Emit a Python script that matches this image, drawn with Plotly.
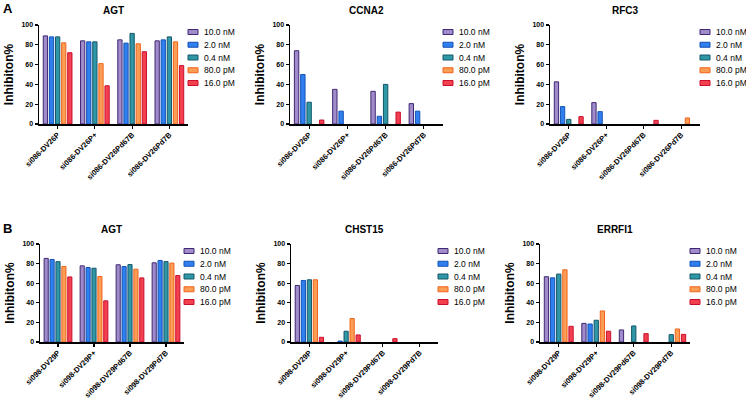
import plotly.graph_objects as go

# ---------------- data ----------------
series_names = ["10.0 nM", "2.0 nM", "0.4 nM", "80.0 pM", "16.0 pM"]
fill_colors = ["#a08bcb", "#2f7fef", "#2f97a5", "#fb9d55", "#f2404f"]
line_colors = ["#3f2772", "#1553b6", "#16566a", "#f0641c", "#c8102e"]

cats_A = ["si086-DV26P", "si086-DV26P+", "si086-DV26Pd67B", "si086-DV26Pd7B"]
cats_B = ["si098-DV29P", "si098-DV29P+", "si098-DV29Pd67B", "si098-DV29Pd7B"]

# values per series (rows = series, columns = categories); None = no bar
agt_A = [
    [89, 84, 85, 84],
    [88, 83, 81.7, 85],
    [88, 83, 91.5, 88],
    [82, 61, 81, 83],
    [72, 38.6, 73, 59],
]
ccna2_A = [
    [74, 35, 33, 20.6],
    [50, 13, 7.8, 13],
    [22, None, 40, None],
    [None, None, None, None],
    [4, None, 12, None],
]
rfc3_A = [
    [42.6, 21.6, None, None],
    [17.6, 12.5, None, None],
    [4.7, None, None, None],
    [None, None, None, 6.1],
    [7.4, None, 3.7, None],
]
agt_B = [
    [85.3, 77.7, 78.8, 80.8],
    [84.2, 76, 77, 83.2],
    [82, 75.3, 79, 82],
    [77, 66.8, 74.3, 80.5],
    [66.4, 42, 65.4, 67.8],
]
chst15_B = [
    [57.7, None, None, None],
    [62.8, 1, None, None],
    [63.5, 11, None, None],
    [63.5, 24, None, None],
    [4.8, 7.2, 3.4, None],
]
errfi1_B = [
    [66.6, 19, 12.3, None],
    [65.5, 18.4, None, None],
    [69.3, 22.2, 16.4, 7.5],
    [73.7, 31.7, None, 13.3],
    [16, 11, 8.5, 7.8],
]

y_ticks = [0, 20, 40, 60, 80, 100]
y_title_A = "Inhibiton%"
y_title_B = "Inhibiton%"

# ---------------- layout helpers ----------------
W, H = 746, 399
FONT = "Liberation Sans, Arial, sans-serif"

panels = [
    # title, cats, data, x0px, x1px, ytop_px, ybot_px, ytitle
    ("AGT", cats_A, agt_A, 39, 188, 25, 124, y_title_A),
    ("CCNA2", cats_A, ccna2_A, 290, 443, 25, 124, y_title_A),
    ("RFC3", cats_A, rfc3_A, 550, 700, 25, 124, y_title_A),
    ("AGT", cats_B, agt_B, 40, 184, 244, 342, y_title_B),
    ("CHST15", cats_B, chst15_B, 291, 438, 244, 342, y_title_B),
    ("ERRFI1", cats_B, errfi1_B, 540, 690, 244, 342, y_title_B),
]

fig = go.Figure()
shapes = []
annotations = []
layout_axes = {}

for i, (title, cats, data, x0, x1, yt, yb, ytitle) in enumerate(panels):
    n = i + 1
    xa = "x" if n == 1 else f"x{n}"
    ya = "y" if n == 1 else f"y{n}"
    xkey = "xaxis" if n == 1 else f"xaxis{n}"
    ykey = "yaxis" if n == 1 else f"yaxis{n}"
    for s, name in enumerate(series_names):
        fig.add_trace(go.Bar(
            x=cats, y=data[s], name=name, xaxis=xa, yaxis=ya,
            marker=dict(color=fill_colors[s],
                        line=dict(color=line_colors[s], width=1)),
            showlegend=False,
        ))
    layout_axes[xkey] = dict(
        domain=[x0 / W, x1 / W], anchor=ya, automargin=False,
        showline=True, linecolor="black", linewidth=1.5,
        ticks="outside", ticklen=3, tickwidth=1.2, tickcolor="black",
        tickangle=-45, ticklabelstandoff=-1,
        tickfont=dict(family=FONT, size=7.5, color="black", weight="bold"),
        showgrid=False, zeroline=False, fixedrange=True,
    )
    layout_axes[ykey] = dict(
        domain=[1 - yb / H, 1 - yt / H], anchor=xa, automargin=False,
        range=[0, 100], tickvals=y_ticks,
        showline=True, linecolor="black", linewidth=1.5,
        ticks="outside", ticklen=3, tickwidth=1.2, tickcolor="black",
        tickfont=dict(family=FONT, size=7, color="black", weight="bold"),
        title=dict(text=ytitle,
                   font=dict(family=FONT, size=12, color="black", weight="bold"),
                   standoff=5),
        showgrid=False, zeroline=False, fixedrange=True,
    )
    # panel title
    annotations.append(dict(
        text=f"<b>{title}</b>", xref="paper", yref="paper",
        x=(x0 + x1) / 2 / W, y=1 - (yt - 15) / H,
        xanchor="center", yanchor="middle", showarrow=False,
        font=dict(family=FONT, size=10, color="black"),
    ))
    # legend (swatches + labels)
    sx0 = x1 + 0
    for s, name in enumerate(series_names):
        cy = yt + 7 + s * 12.75
        shapes.append(dict(
            type="rect", xref="paper", yref="paper",
            x0=sx0 / W, x1=(sx0 + 10) / W,
            y0=1 - (cy + 2.5) / H, y1=1 - (cy - 2.5) / H,
            fillcolor=fill_colors[s],
            line=dict(color=line_colors[s], width=1),
        ))
        annotations.append(dict(
            text=name, xref="paper", yref="paper",
            x=(sx0 + 14) / W, y=1 - cy / H,
            xanchor="left", yanchor="middle", showarrow=False,
            font=dict(family=FONT, size=8.5, color="black"),
        ))

# panel letters
annotations.append(dict(text="<b>A</b>", xref="paper", yref="paper",
                        x=1 / W, y=1 - 9 / H, xanchor="left", yanchor="middle",
                        showarrow=False, font=dict(family=FONT, size=13, color="black")))
annotations.append(dict(text="<b>B</b>", xref="paper", yref="paper",
                        x=1 / W, y=1 - 228 / H, xanchor="left", yanchor="middle",
                        showarrow=False, font=dict(family=FONT, size=13, color="black")))

fig.update_layout(
    width=W, height=H,
    margin=dict(l=0, r=0, t=0, b=0, autoexpand=False),
    paper_bgcolor="white", plot_bgcolor="white",
    barmode="group", bargap=0.18, bargroupgap=0.3,
    showlegend=False,
    shapes=shapes, annotations=annotations,
    font=dict(family=FONT, color="black"),
    **layout_axes,
)

fig.write_html("out.html",
               config={"displayModeBar": False, "staticPlot": True},
               post_script="document.body.style.margin='0';document.body.style.overflow='hidden';")
